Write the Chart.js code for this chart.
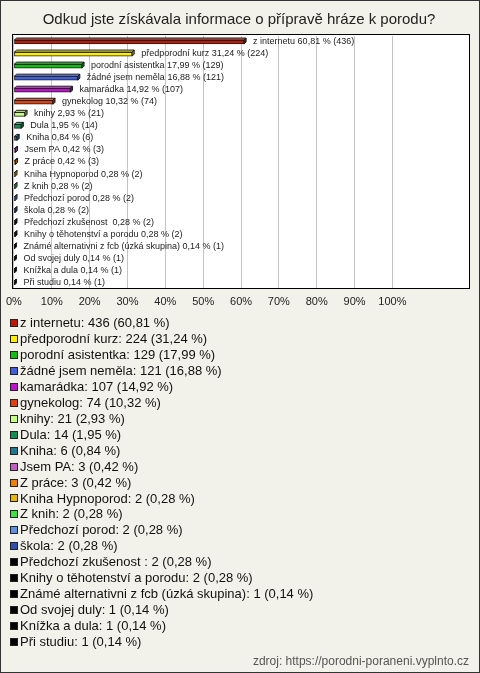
<!DOCTYPE html>
<html><head><meta charset="utf-8">
<script src="https://cdn.jsdelivr.net/npm/chart.js@4"></script>
<style>html,body{margin:0;padding:0;background:#f3f2ea}canvas{display:block}</style>
</head><body>
<canvas id="c" width="480" height="673"></canvas>
<script>
const titleText = "Odkud jste získávala informace o přípravě hráze k porodu?";
const categories = ["z internetu","předporodní kurz","porodní asistentka","žádné jsem neměla","kamarádka","gynekolog","knihy","Dula","Kniha","Jsem PA","Z práce","Kniha Hypnoporod","Z knih","Předchozí porod","škola","Předchozí zkušenost ","Knihy o těhotenství a porodu","Známé alternativni z fcb (úzká skupina)","Od svojej duly","Knížka a dula","Při studiu"];
const counts = [436,224,129,121,107,74,21,14,6,3,3,2,2,2,2,2,2,1,1,1,1];
const percents = [60.81,31.24,17.99,16.88,14.92,10.32,2.93,1.95,0.84,0.42,0.42,0.28,0.28,0.28,0.28,0.28,0.28,0.14,0.14,0.14,0.14];
const colors = ['#c01800','#ffee00','#10c010','#4060e0','#c010d0','#e04010','#c8ff80','#109050','#207890','#c060c0','#f08000','#e8b800','#40e040','#6090e0','#3050b0','#000000','#000000','#000000','#000000','#000000','#000000'];
const tickLabels = ['0%','10%','20%','30%','40%','50%','60%','70%','80%','90%','100%'];
const sourceText = "zdroj: https://porodni-poraneni.vyplnto.cz";

const FONT = '"Liberation Sans", Arial, sans-serif';
const fmt = v => v.toFixed(2).replace('.', ',');
function shade(hex, f){
  let n = parseInt(hex.slice(1),16);
  let r=(n>>16)&255,g=(n>>8)&255,b=n&255;
  if(f>0){ r=r+(255-r)*f; g=g+(255-g)*f; b=b+(255-b)*f; }
  else { r=r*(1+f); g=g*(1+f); b=b*(1+f); }
  return `rgb(${Math.round(r)},${Math.round(g)},${Math.round(b)})`;
}

const deco = {
  id:'deco',
  beforeDraw(chart){
    const {ctx, chartArea:a} = chart;
    ctx.save();
    ctx.fillStyle='#f3f2ea'; ctx.fillRect(0,0,chart.width,chart.height);
    ctx.fillStyle='#ffffff'; ctx.fillRect(a.left-1,a.top-1,a.right-a.left+1,a.bottom-a.top+1);
    ctx.restore();
  },
  afterDatasetsDraw(chart){
    const {ctx} = chart;
    const meta = chart.getDatasetMeta(0);
    ctx.save();
    meta.data.forEach((el,i)=>{
      const {x,y,base,height} = el.getProps(['x','y','base','height'], true);
      const top = y - height/2, bottom = y + height/2, d = 2;
      ctx.lineWidth = 1; ctx.strokeStyle = '#1a1a1a';
      ctx.beginPath();
      ctx.moveTo(base,top); ctx.lineTo(base+d,top-d); ctx.lineTo(x+d,top-d); ctx.lineTo(x,top); ctx.closePath();
      ctx.fillStyle = shade(colors[i], 0.35); ctx.fill(); ctx.stroke();
      ctx.beginPath();
      ctx.moveTo(x,top); ctx.lineTo(x+d,top-d); ctx.lineTo(x+d,bottom-d); ctx.lineTo(x,bottom); ctx.closePath();
      ctx.fillStyle = shade(colors[i], -0.35); ctx.fill(); ctx.stroke();
      ctx.fillStyle = '#222'; ctx.font = '9px ' + FONT; ctx.textBaseline='middle'; ctx.textAlign='left';
      ctx.fillText(`${categories[i]} ${fmt(percents[i])} % (${counts[i]})`, x + 9, y - 0.5);
    });
    ctx.restore();
  },
  afterDraw(chart){
    const {ctx, chartArea:a} = chart;
    ctx.save();
    ctx.strokeStyle='#000'; ctx.lineWidth=1;
    const L = Math.round(a.left), T = Math.round(a.top), R = Math.round(a.right), B = Math.round(a.bottom);
    ctx.strokeRect(L-1.5, T-1.5, R-L+1, B-T+1);
    ctx.fillStyle='#222'; ctx.font='15px '+FONT; ctx.textAlign='center'; ctx.textBaseline='middle';
    ctx.fillText(titleText, 239, 20);
    ctx.font='13px '+FONT; ctx.textAlign='left';
    categories.forEach((c,i)=>{
      const yy = 323 + i*15.95;
      ctx.fillStyle = colors[i];
      ctx.fillRect(10, Math.round(yy)-4, 8, 8);
      ctx.strokeStyle='#222'; ctx.strokeRect(10.5, Math.round(yy)-3.5, 7, 7);
      ctx.fillStyle='#111';
      ctx.fillText(`${c}: ${counts[i]} (${fmt(percents[i])} %)`, 20, yy+0.5);
    });
    ctx.fillStyle='#555'; ctx.font='12px '+FONT; ctx.textAlign='right';
    ctx.fillText(sourceText, 469, 662);
    ctx.strokeStyle='#333'; ctx.strokeRect(0.5,0.5,chart.width-1,chart.height-1);
    ctx.restore();
  }
};

new Chart(document.getElementById('c'), {
  type:'bar',
  data:{labels:categories, datasets:[{data:percents, backgroundColor:colors, borderColor:'#1a1a1a', borderWidth:1, barThickness:4, borderSkipped:false}]},
  options:{
    indexAxis:'y', responsive:false, animation:false, devicePixelRatio:1,
    layout:{padding:{top:36,left:10,right:10,bottom:365}},
    plugins:{legend:{display:false}, tooltip:{enabled:false}, title:{display:false}},
    scales:{
      x:{min:0, max:120.5,
        ticks:{stepSize:10, autoSkip:false, maxRotation:0, padding:6, color:'#222', font:{family:FONT,size:11},
          callback:(v)=>{ const i=Math.round(v/10); return (v%10===0 && i<tickLabels.length) ? tickLabels[i] : ''; }},
        grid:{drawTicks:false, color:c=> (c.tick && c.tick.value<=100 && c.tick.value%10===0) ? '#c4c4c4' : 'rgba(0,0,0,0)'},
        border:{display:false},
        afterFit:s=>{ s.height = 19; }
      },
      y:{display:false}
    }
  },
  plugins:[deco]
});
</script>
</body></html>
